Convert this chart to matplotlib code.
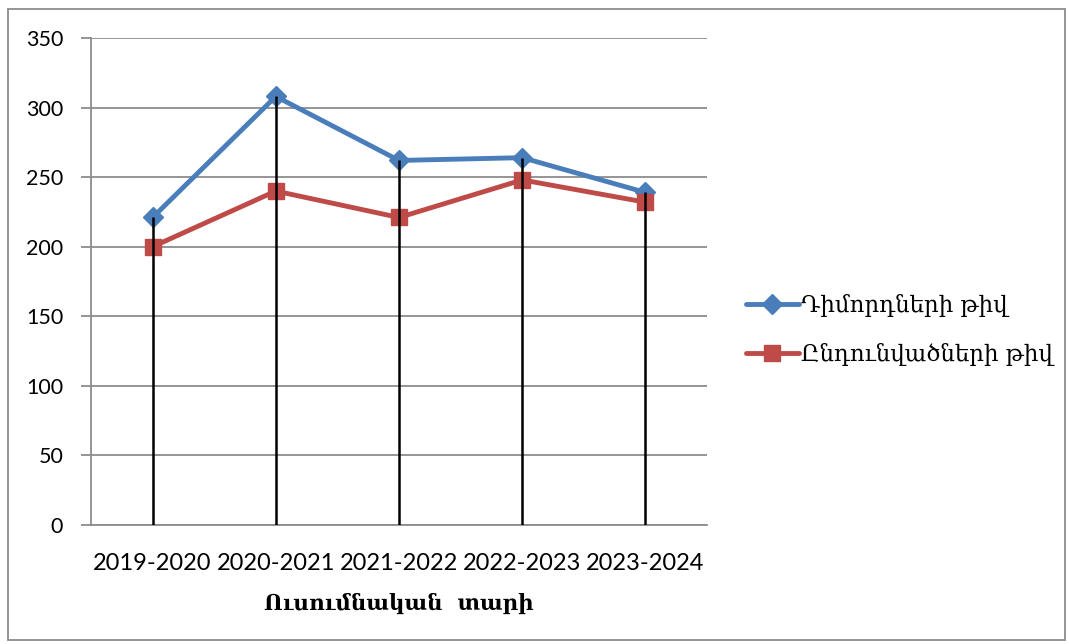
import matplotlib.pyplot as plt
from matplotlib.patches import Rectangle

years = ["2019-2020", "2020-2021", "2021-2022", "2022-2023", "2023-2024"]
applicants = [221, 308, 262, 264, 239]
admitted = [200, 240, 221, 248, 232]
labels = ["Դիմորդների թիվ", "Ընդունվածների թիվ"]
xlabel = "Ուսումնական  տարի"

arm_font = ["DejaVu Serif", "DejaVu Sans"]
num_font = ["Lato", "DejaVu Sans"]

fig = plt.figure(figsize=(10.69, 6.44), dpi=100)
ax = fig.add_axes([91 / 1069, 1 - 525 / 644, (707 - 91) / 1069, (525 - 38) / 644])

x = list(range(len(years)))
ax.plot(x, applicants, color="#4A7EBB", lw=3.5, marker="D", ms=10,
        label=labels[0], zorder=3, solid_capstyle="round")
ax.plot(x, admitted, color="#BE4B48", lw=3.5, marker="s", ms=12,
        label=labels[1], zorder=3, solid_capstyle="round")

# drop lines
tops = [max(a, b) for a, b in zip(applicants, admitted)]
ax.vlines(x, 0, tops, color="black", lw=1.8, zorder=4)

ax.set_xlim(-0.5, len(years) - 0.5)
ax.set_ylim(0, 350)
ax.set_yticks(range(0, 351, 50))
ax.set_xticks(x)
ax.set_xticklabels(years)
ax.grid(axis="y", color="#8c8c8c", lw=1.3)
ax.set_axisbelow(True)
for s in ["top", "right"]:
    ax.spines[s].set_visible(False)
for s in ["left", "bottom"]:
    ax.spines[s].set_color("#8c8c8c")
    ax.spines[s].set_linewidth(1.3)
ax.tick_params(axis="y", length=7, width=1.3, color="#8c8c8c", pad=13)
ax.tick_params(axis="x", length=0, pad=20)
for t in ax.get_yticklabels():
    t.set_family(num_font)
    t.set_fontsize(15.5)
for t in ax.get_xticklabels():
    t.set_family(num_font)
    t.set_fontsize(17)

ax.set_xlabel(xlabel, family=arm_font, fontsize=15.5, fontweight="bold", labelpad=14)

leg = ax.legend(loc="center left", bbox_to_anchor=(1.03, 0.40), frameon=False,
                prop={"family": arm_font, "size": 16.5}, handlelength=2.3,
                handletextpad=0.1, labelspacing=1.15)

fig.patches.append(Rectangle((8 / 1069, 4 / 644), 1057 / 1069, 631 / 644,
                             transform=fig.transFigure, fill=False,
                             edgecolor="#8c8c8c", lw=1.3))

fig.savefig("out.png", dpi=100)
